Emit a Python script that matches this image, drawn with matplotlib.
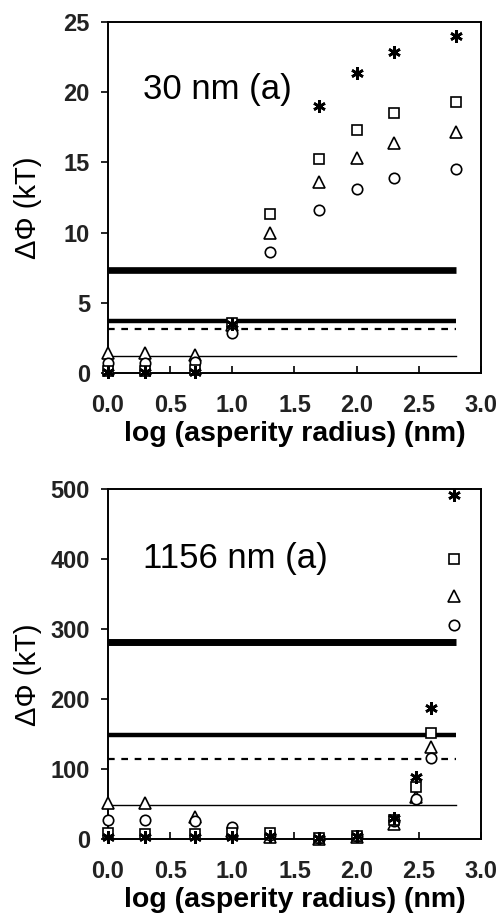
import numpy as np
import matplotlib.pyplot as plt

plt.rcParams['font.family'] = ['Liberation Sans', 'DejaVu Sans']

# log of asperity radius
x_top = [0.0, 0.3, 0.7, 1.0, 1.3, 1.7, 2.0, 2.3, 2.8]
x_bot = [0.0, 0.3, 0.7, 1.0, 1.3, 1.7, 2.0, 2.3, 2.48, 2.6, 2.78]

# 30 nm particle
star_top = [0.05, 0.05, 0.05, 3.5, np.nan, 19.0, 21.4, 22.9, 24.0]
square_top = [0.15, 0.15, 0.2, 3.55, 11.3, 15.25, 17.3, 18.5, 19.3]
tri_top = [1.4, 1.4, 1.3, 3.4, 10.0, 13.6, 15.3, 16.4, 17.2]
circle_top = [0.7, 0.7, 0.8, 2.85, 8.6, 11.6, 13.1, 13.9, 14.55]
levels_top = [7.36, 3.71, 3.12, 1.21]

# 1156 nm particle
star_bot = [3, 3, 3, 3, 4, 1, 4, 30, 88, 187, 491]
square_bot = [8, 7, 7, 8, 8, 1, 4, 27, 74, 152, 400]
tri_bot = [51, 51, 32, 12, 3, 0, 3, 22, 60, 132, 347]
circle_bot = [27, 27, 25, 17, 5, 1, 4, 25, 57, 116, 306]
levels_bot = [282, 148, 114, 48.6]

line_span = [0.0, 2.8]


def draw_panel(ax, x, star, square, tri, circle, levels, ymax, ystep, label, label_y, thick):
    # reference energy levels
    ax.plot(line_span, [levels[0]] * 2, color='black', lw=thick, solid_capstyle='butt', zorder=2)
    ax.plot(line_span, [levels[1]] * 2, color='black', lw=3.2, solid_capstyle='butt', zorder=2)
    ax.plot(line_span, [levels[2]] * 2, color='black', lw=1.6, ls=(0, (3, 3)), zorder=2)
    ax.plot(line_span, [levels[3]] * 2, color='black', lw=1.0, zorder=2)

    kw = dict(ls='none', mec='black', mfc='white', mew=1.2, zorder=3, clip_on=False)
    ax.plot(x, tri, marker='^', ms=9, **kw)
    ax.plot(x, circle, marker='o', ms=7.5, **kw)
    ax.plot(x, square, marker='s', ms=7.5, **kw)
    ax.plot(x, star, marker=(6, 2, 0), ms=9, ls='none', color='black', mew=1.9,
            zorder=4, clip_on=False)

    ax.set_xlim(0, 3)
    ax.set_ylim(0, ymax)
    ax.set_xticks(np.arange(0, 3.01, 0.5))
    ax.set_yticks(np.arange(0, ymax + 1, ystep))
    ax.set_xticklabels(['%.1f' % v for v in np.arange(0, 3.01, 0.5)])
    ax.tick_params(axis='x', direction='in', length=5, width=1.2, pad=15)
    ax.tick_params(axis='y', direction='out', length=5, width=1.2, pad=8)
    for lab in ax.get_xticklabels() + ax.get_yticklabels():
        lab.set_fontsize(17)
        lab.set_fontweight('bold')
        lab.set_color('#222222')
    for sp in ax.spines.values():
        sp.set_linewidth(1.4)
    ax.set_xlabel('log (asperity radius) (nm)', fontsize=20.5, fontweight='bold', labelpad=3)
    ax.set_ylabel('ΔΦ (kT)', fontsize=21)
    ax.yaxis.set_label_coords(-0.178, 0.47)
    ax.text(0.28, label_y, label, fontsize=25, ha='left', va='center')


fig = plt.figure(figsize=(4.99, 9.14), dpi=100)
ax1 = fig.add_axes([0.2164, 0.5919, 0.7475, 0.3840])
ax2 = fig.add_axes([0.2164, 0.0821, 0.7475, 0.3829])

draw_panel(ax1, x_top, star_top, square_top, tri_top, circle_top, levels_top,
           25, 5, '30 nm (a)', 20.2, 4.8)
draw_panel(ax2, x_bot, star_bot, square_bot, tri_bot, circle_bot, levels_bot,
           500, 100, '1156 nm (a)', 401, 5.0)

fig.savefig('out.png', dpi=100)
